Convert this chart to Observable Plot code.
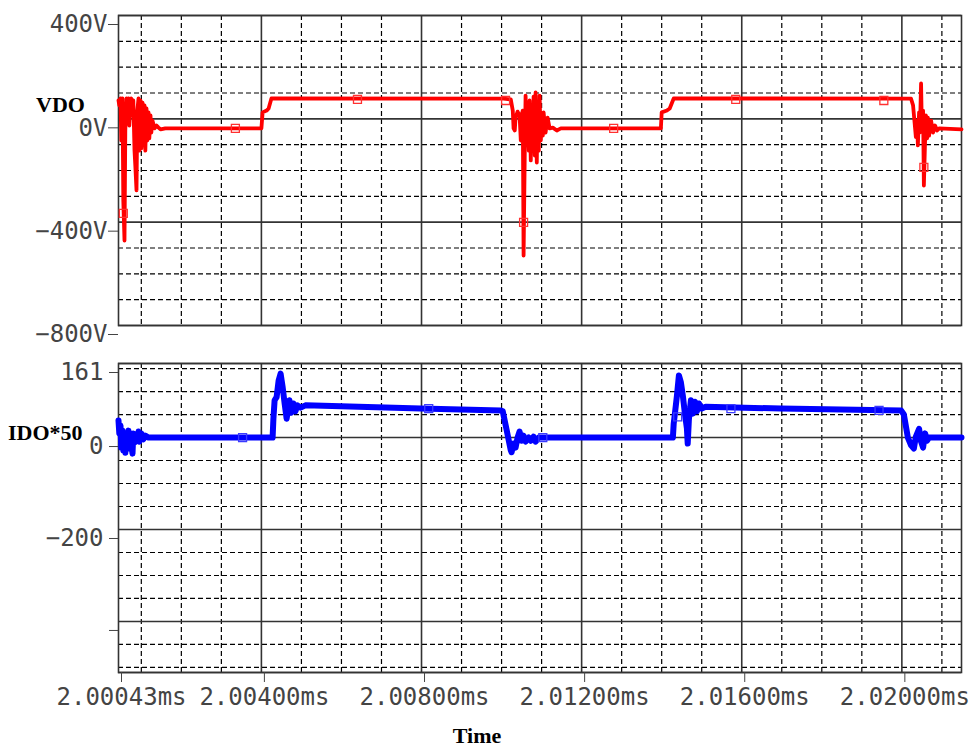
<!DOCTYPE html>
<html><head><meta charset="utf-8">
<script src="https://cdn.jsdelivr.net/npm/d3@7"></script>
<script src="https://cdn.jsdelivr.net/npm/@observablehq/plot@0.6"></script>
<style>
body{margin:0;background:#fff}
#wrap{position:relative;width:972px;height:749px;overflow:hidden;background:#fff}
#wrap > svg{position:absolute;left:0}
.lbl{font-family:"Liberation Serif","Times New Roman",serif;font-weight:bold;font-size:22px;fill:#000}
</style></head><body>
<div id="wrap"></div>
<script>
// time in microseconds after 2 ms
const vdoT = [0.43,0.45,0.48,0.50,0.53,0.55,0.58,0.60,0.63,0.65,0.68,0.70,0.73,0.75,0.78,0.80,0.83,0.85,0.88,0.90,0.93,0.95,0.98,1.00,1.03,1.05,1.08,1.10,1.13,1.15,1.18,1.20,1.23,1.25,1.28,1.33,1.38,1.43,1.48,1.60,4.00,4.03,4.13,4.18,4.25,10.05,10.23,10.28,10.30,10.33,10.35,10.40,10.45,10.48,10.50,10.53,10.55,10.58,10.60,10.63,10.65,10.68,10.70,10.73,10.75,10.78,10.80,10.83,10.85,10.88,10.90,10.93,10.95,10.98,11.00,11.03,11.05,11.10,11.15,11.20,11.28,11.38,11.48,13.98,14.00,14.13,14.20,14.30,20.23,20.28,20.35,20.38,20.40,20.43,20.45,20.48,20.50,20.53,20.55,20.58,20.60,20.63,20.65,20.68,20.73,20.78,20.83,20.88,20.93,21.49];
const vdoV = [71,52,79,-84,79,-316,-471,-45,79,40,79,-26,71,79,13,71,-123,-181,-277,32,79,-123,71,-115,63,-103,52,-123,40,-84,25,-76,13,-53,-7,-37,-26,-34,-41,-37,-37,25,32,40,79,78,75,32,-37,-45,5,28,13,-84,13,32,-529,-123,90,-45,40,-123,71,-161,32,-84,86,-142,102,-169,40,-123,90,-84,13,-65,25,-53,5,-37,-34,-45,-37,-37,25,32,40,79,78,52,-71,-7,-103,25,-53,137,-37,32,-258,-84,13,-76,5,-65,-7,-53,-26,-45,-37,-41];

const idoT = [0.43,0.45,0.48,0.50,0.53,0.55,0.58,0.60,0.63,0.65,0.68,0.70,0.73,0.75,0.78,0.80,0.83,0.85,0.88,0.93,0.95,1.00,1.05,1.10,1.18,4.28,4.30,4.33,4.38,4.43,4.48,4.53,4.58,4.63,4.65,4.70,4.75,4.80,4.85,4.90,4.98,5.10,7.98,9.98,10.03,10.13,10.23,10.25,10.30,10.35,10.40,10.45,10.50,10.55,10.60,10.68,10.73,10.80,10.85,10.93,11.05,14.28,14.30,14.33,14.38,14.43,14.48,14.53,14.58,14.63,14.65,14.68,14.73,14.78,14.83,14.88,14.93,15.00,15.10,16.98,19.98,20.05,20.15,20.23,20.30,20.35,20.43,20.48,20.53,20.58,20.63,20.68,21.49];
const idoV = [37,9,26,-22,15,-28,0,-33,9,-13,15,-24,4,-17,-35,9,-11,4,-7,13,-9,9,-4,4,0,0,41,81,88,124,139,110,74,41,52,81,54,74,57,70,65,70,63,59,57,15,-28,-32,-13,-22,0,13,-7,4,-9,0,-7,2,-9,0,0,0,30,52,90,135,120,90,52,20,-13,40,81,52,78,57,74,63,67,63,59,50,0,-17,-24,2,19,-9,-22,9,-7,0,0];

const vdoMarkT = [0.55,3.35,6.40,10.10,10.55,12.80,15.85,19.55,20.55];
const vdoMarkV = [-366,-37,75,71,-401,-37,75,71,-188];
const idoMarkT = [3.53,8.18,11.03,14.40,15.73,19.43];
const idoMarkV = [0,63,0,45,63,59];

const timeDomain = [0.43, 21.49];
const timeMajor = [4,8,12,16,20];
const timeMinor = [1,2,3,5,6,7,9,10,11,13,14,15,17,18,19,21];
const timeTicks = [0.43,4,8,12,16,20];
const timeLabels = ["2.00043ms","2.00400ms","2.00800ms","2.01200ms","2.01600ms","2.02000ms"];

const vDomain = [-800, 400];
const vMajor = [400,0,-400,-800];
const vMinor = [300,200,100,-100,-200,-300,-500,-600,-700];
const vLabels = ["400V","0V","\u2212400V","\u2212800V"];

const iDomain = [-511, 161];
const iMajor = [161,0,-200,-400,-511];
const iMinor = [150,100,50,-50,-100,-150,-250,-300,-350,-450,-500];
const iTicks = [161,0,-200,-400];
const iLabels = ["161","0","\u2212200",""];

const vdo = vdoT.map((t,i)=>({t, v:vdoV[i]}));
const ido = idoT.map((t,i)=>({t, v:idoV[i]}));
const vdoMarks = vdoMarkT.map((t,i)=>({t, v:vdoMarkV[i]}));
const idoMarks = idoMarkT.map((t,i)=>({t, v:idoMarkV[i]}));

const dashStyle = {stroke:"#000", strokeDasharray:"5,3", strokeWidth:1.2};
const solidStyle = {stroke:"#333", strokeWidth:1.6};
const common = {width:972, marginLeft:118, marginRight:11,
  style:{fontFamily:"'DejaVu Sans Mono', monospace", background:"transparent", color:"#444", overflow:"visible"}};

const topPlot = Plot.plot({
  ...common, height:340, marginTop:15, marginBottom:15,
  x:{domain:timeDomain, axis:null},
  y:{domain:vDomain, axis:null},
  marks:[
    Plot.ruleY(vMinor, dashStyle),
    Plot.ruleX(timeMinor, dashStyle),
    Plot.ruleY(vMajor, solidStyle),
    Plot.ruleX(timeMajor, solidStyle),
    Plot.frame(solidStyle),
    Plot.axisY(vMajor, {tickSize:10, tickPadding:1, fontSize:24, dy:9, label:null,
      tickFormat:d => vLabels[vMajor.indexOf(d)]}),
    Plot.line(vdo, {x:"t", y:"v", stroke:"#ff0000", strokeWidth:3.8}),
    Plot.dot(vdoMarks, {x:"t", y:"v", symbol:"square", r:4.5, stroke:"#ff3030", strokeWidth:1.3, fill:"none"})
  ]
});
topPlot.style.top = "0px";

const bottomPlot = Plot.plot({
  ...common, height:409, marginTop:23, marginBottom:77,
  x:{domain:timeDomain},
  y:{domain:iDomain, axis:null},
  marks:[
    Plot.ruleY(iMinor, dashStyle),
    Plot.ruleX(timeMinor, dashStyle),
    Plot.ruleY(iMajor, solidStyle),
    Plot.ruleX(timeMajor, solidStyle),
    Plot.frame(solidStyle),
    Plot.axisY(iTicks, {tickSize:9, tickPadding:6, fontSize:24, dy:9, label:null,
      tickFormat:d => iLabels[iTicks.indexOf(d)]}),
    Plot.axisX(timeTicks, {tickSize:10, tickPadding:5, fontSize:24, dx:3, label:null,
      tickFormat:d => timeLabels[timeTicks.indexOf(d)]}),
    Plot.line(ido, {x:"t", y:"v", stroke:"#0000ff", strokeWidth:6}),
    Plot.dot(idoMarks, {x:"t", y:"v", symbol:"square", r:4.5, stroke:"#3a3aff", strokeWidth:1.3, fill:"none"})
  ]
});
bottomPlot.style.top = "340px";

const wrap = document.getElementById("wrap");
wrap.appendChild(topPlot);
wrap.appendChild(bottomPlot);

const ns = "http://www.w3.org/2000/svg";
const overlay = document.createElementNS(ns, "svg");
overlay.setAttribute("width", 972);
overlay.setAttribute("height", 749);
overlay.style.top = "0px";
overlay.style.pointerEvents = "none";
const labels = [
  {text:"VDO", x:36, y:112, anchor:"start"},
  {text:"IDO*50", x:8, y:440, anchor:"start"},
  {text:"Time", x:477, y:743, anchor:"middle"}
];
for (const l of labels) {
  const t = document.createElementNS(ns, "text");
  t.setAttribute("x", l.x); t.setAttribute("y", l.y);
  t.setAttribute("text-anchor", l.anchor);
  t.setAttribute("class", "lbl");
  t.textContent = l.text;
  overlay.appendChild(t);
}
wrap.appendChild(overlay);
</script>
</body></html>
